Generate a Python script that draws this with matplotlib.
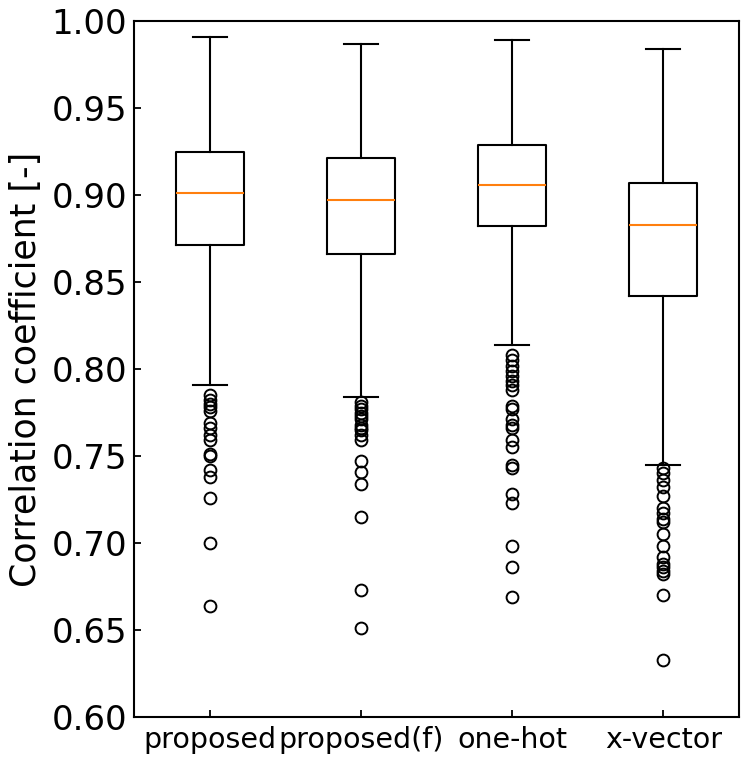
import matplotlib
matplotlib.use("Agg")
import matplotlib.pyplot as plt

categories = ["proposed", "proposed(f)", "one-hot", "x-vector"]

whisker_high = [0.991, 0.987, 0.989, 0.984]
q3_values = [0.925, 0.921, 0.929, 0.907]
medians = [0.901, 0.897, 0.906, 0.883]
q1_values = [0.871, 0.866, 0.882, 0.842]
whisker_low = [0.791, 0.784, 0.814, 0.745]

fliers_proposed = [0.785, 0.782, 0.780, 0.778, 0.776, 0.769, 0.766, 0.762, 0.759,
                   0.751, 0.750, 0.742, 0.738, 0.726, 0.700, 0.664]
fliers_proposed_f = [0.781, 0.779, 0.777, 0.775, 0.773, 0.771, 0.768, 0.766, 0.765,
                     0.762, 0.759, 0.747, 0.741, 0.734, 0.715, 0.673, 0.651]
fliers_onehot = [0.808, 0.805, 0.802, 0.799, 0.796, 0.793, 0.791, 0.788, 0.779, 0.777,
                 0.771, 0.768, 0.766, 0.759, 0.755, 0.745, 0.743, 0.728, 0.723, 0.698,
                 0.686, 0.669]
fliers_xvector = [0.743, 0.740, 0.736, 0.732, 0.727, 0.720, 0.717, 0.714, 0.712, 0.705,
                  0.698, 0.692, 0.688, 0.686, 0.684, 0.682, 0.670, 0.633]
all_fliers = [fliers_proposed, fliers_proposed_f, fliers_onehot, fliers_xvector]

ytick_values = [0.60, 0.65, 0.70, 0.75, 0.80, 0.85, 0.90, 0.95, 1.00]

stats = []
for i, name in enumerate(categories):
    stats.append(dict(label=name, whishi=whisker_high[i], q3=q3_values[i],
                      med=medians[i], q1=q1_values[i], whislo=whisker_low[i],
                      fliers=all_fliers[i]))

fig = plt.figure(figsize=(7.47, 7.59), dpi=100)
ax = fig.add_axes([134 / 747, 1 - 717 / 759, 605 / 747, 696 / 759])

lw = 1.5
ax.bxp(stats, widths=0.45,
       boxprops=dict(linewidth=lw, color="black"),
       whiskerprops=dict(linewidth=lw, color="black"),
       capprops=dict(linewidth=lw, color="black"),
       medianprops=dict(linewidth=lw, color="#ff7f0e"),
       flierprops=dict(marker="o", markersize=8.5, markerfacecolor="none",
                       markeredgecolor="black", markeredgewidth=1.4))

ax.set_ylim(0.60, 1.00)
ax.set_yticks(ytick_values)
ax.set_yticklabels([f"{v:.2f}" for v in ytick_values])
ax.tick_params(axis="y", direction="in", labelsize=24.5, length=5, width=1.3, pad=5)
ax.tick_params(axis="x", direction="in", labelsize=20.5, length=5, width=1.3, pad=6.5)
ax.set_ylabel("Correlation coefficient [-]", fontsize=25, labelpad=6)
for sp in ax.spines.values():
    sp.set_linewidth(1.5)

fig.savefig("out.png", dpi=100)
